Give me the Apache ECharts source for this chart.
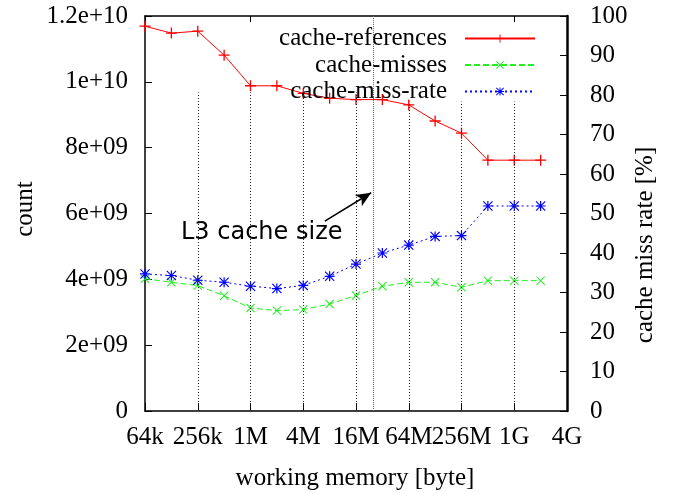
<!DOCTYPE html>
<html><head><meta charset="utf-8">
<script src="https://cdn.jsdelivr.net/npm/echarts@6/dist/echarts.min.js"></script>
<style>html,body{margin:0;padding:0;background:#fff}#c{width:673px;height:494px}</style>
</head><body><div id="c"></div>
<script>
// working memory sizes in bytes (64k .. 2G, factor 2)
const workingMemory = [65536, 131072, 262144, 524288, 1048576, 2097152, 4194304, 8388608,
  16777216, 33554432, 67108864, 134217728, 268435456, 536870912, 1073741824, 2147483648];
const cacheReferences = [1.169e10, 1.148e10, 1.154e10, 1.081e10, 9.88e9, 9.88e9, 9.65e9, 9.50e9,
  9.46e9, 9.46e9, 9.30e9, 8.81e9, 8.44e9, 7.62e9, 7.62e9, 7.62e9];
const cacheMisses = [4.02e9, 3.91e9, 3.81e9, 3.50e9, 3.13e9, 3.05e9, 3.08e9, 3.25e9,
  3.51e9, 3.79e9, 3.91e9, 3.91e9, 3.76e9, 3.96e9, 3.96e9, 3.96e9];
const cacheMissRate = [34.7, 34.3, 33.1, 32.6, 31.6, 31.0, 31.8, 34.1,
  37.2, 40.0, 42.0, 44.2, 44.4, 51.9, 51.9, 51.9];
const xTickLabels = ['64k', '256k', '1M', '4M', '16M', '64M', '256M', '1G', '4G'];
const gridXValues = [262144, 1048576, 4194304, 16777216, 67108864, 268435456, 1073741824];
const l3CacheSize = 26214400; // 25M
const seriesNames = ['cache-references', 'cache-misses', 'cache-miss-rate'];

const SERIF = 'Liberation Serif';
const FS = 25;
const plusPath = 'path://M0,4.4H10V5.6H0Z M4.4,0H5.6V10H4.4Z';
const crossPath = 'path://M0.8,0L5,4.2L9.2,0L10,0.8L5.8,5L10,9.2L9.2,10L5,5.8L0.8,10L0,9.2L4.2,5L0,0.8Z';
const starPath = 'path://M0.8,0L5,4.2L9.2,0L10,0.8L5.8,5L10,9.2L9.2,10L5,5.8L0.8,10L0,9.2L4.2,5L0,0.8Z M0,4.4H10V5.6H0Z M4.4,0H5.6V10H4.4Z';

function gfmt(v) {
  if (v === 0) return '0';
  const e = Math.floor(Math.log10(v) + 1e-9);
  const m = +(v / Math.pow(10, e)).toPrecision(6);
  return m + 'e+' + (e < 10 ? '0' + e : e);
}
function xlab(v) {
  const i = Math.round(Math.log(v) / Math.log(4)) - 8;
  return xTickLabels[i] !== undefined ? xTickLabels[i] : '';
}

const pairs = a => workingMemory.map((x, i) => [x, a[i]]);

const gridLines = gridXValues.map((x, i) => [
  { coord: [x, 0] },
  { coord: [x, i < 4 ? 9.68e9 : 9.4e9] }
]);

const commonX = {
  type: 'log', min: 65536, max: 4294967296,
  axisLabel: { show: false }, splitLine: { show: false }
};

const option = {
  animation: false,
  grid: { left: 145, right: 106, top: 16, bottom: 83, containLabel: false },
  xAxis: [
    Object.assign({}, commonX, {
      position: 'bottom', logBase: 4, splitNumber: 8,
      axisLine: { show: true, lineStyle: { color: '#000', width: 1.5 } },
      axisTick: { show: true, inside: true, length: 8, lineStyle: { color: '#000', width: 1 } },
      axisLabel: { show: true, formatter: xlab, color: '#000', fontFamily: SERIF, fontSize: FS, margin: 14 }
    }),
    Object.assign({}, commonX, {
      position: 'bottom', logBase: 2, splitNumber: 16,
      axisLine: { show: false },
      axisTick: { show: true, inside: true, length: 4, lineStyle: { color: '#000', width: 1 } }
    }),
    Object.assign({}, commonX, {
      position: 'top', logBase: 2, splitNumber: 16,
      axisLine: { show: true, lineStyle: { color: '#000', width: 1.5 } },
      axisTick: { show: true, inside: true, length: 6, lineStyle: { color: '#000', width: 1 } }
    })
  ],
  yAxis: [
    {
      type: 'value', position: 'left', min: 0, max: 1.2e10, interval: 2e9,
      axisLine: { show: true, lineStyle: { color: '#000', width: 1.5 } },
      axisTick: { show: true, inside: true, length: 7, lineStyle: { color: '#000', width: 1 } },
      axisLabel: { formatter: gfmt, color: '#000', fontFamily: SERIF, fontSize: FS, margin: 17 },
      splitLine: { show: false }
    },
    {
      type: 'value', position: 'right', min: 0, max: 100, interval: 10,
      axisLine: { show: true, lineStyle: { color: '#000', width: 2.5 } },
      axisTick: { show: true, inside: true, length: 7, lineStyle: { color: '#000', width: 1 } },
      axisLabel: { color: '#000', fontFamily: SERIF, fontSize: FS, margin: 23 },
      splitLine: { show: false }
    }
  ],
  legend: seriesNames.map((n, i) => ({
    data: [n], right: 137, top: 26 + i * 26.5, orient: 'vertical', align: 'right',
    itemWidth: 70, itemHeight: 10, padding: 0, selectedMode: false,
    textStyle: { color: '#000', fontFamily: SERIF, fontSize: FS, padding: [0, 13, 0, 0] }
  })),
  series: [
    {
      name: seriesNames[0], type: 'line', xAxisIndex: 0, yAxisIndex: 0,
      data: pairs(cacheReferences), symbol: plusPath, symbolSize: 11, showAllSymbol: true,
      color: '#ff0000', lineStyle: { color: '#ff0000', width: 1 }, itemStyle: { color: '#ff0000' },
      z: 3,
      markLine: {
        silent: true, symbol: ['none', 'none'], label: { show: false },
        lineStyle: { color: '#ff3000', type: [1, 1], width: 1, opacity: 1 },
        data: [[{ coord: [l3CacheSize, 0] }, { coord: [l3CacheSize, 1.2e10] }]]
      }
    },
    {
      name: seriesNames[1], type: 'line', xAxisIndex: 0, yAxisIndex: 0,
      data: pairs(cacheMisses), symbol: crossPath, symbolSize: 9, showAllSymbol: true,
      color: '#22ee22', lineStyle: { color: '#22ee22', width: 1, type: [6, 3] }, itemStyle: { color: '#22ee22' },
      z: 3,
      markLine: {
        silent: true, symbol: ['none', 'none'], label: { show: false },
        lineStyle: { color: '#222', type: [1, 2], width: 1, opacity: 1 },
        data: gridLines
      }
    },
    {
      name: seriesNames[2], type: 'line', xAxisIndex: 0, yAxisIndex: 1,
      data: pairs(cacheMissRate), symbol: starPath, symbolSize: 10, showAllSymbol: true,
      color: '#0000ff', lineStyle: { color: '#0000ff', width: 1, type: [2, 3] }, itemStyle: { color: '#0000ff' },
      z: 3,
      markLine: {
        silent: true, symbol: ['none', 'arrow'], symbolSize: [10, 15], label: { show: false },
        lineStyle: { color: '#000', type: 'solid', width: 1.5, opacity: 1 },
        data: [[{ coord: [7.4e6, 5.77e9 / 1.2e8] }, { coord: [2.5e7, 6.63e9 / 1.2e8] }]]
      }
    }
  ],
  graphic: [
    { type: 'text', left: 181, top: 221, style: { text: 'L3 cache size', font: '24px "DejaVu Sans"', fill: '#000' }, z: 10 },
    { type: 'text', x: 25, y: 209, rotation: Math.PI / 2,
      style: { text: 'count', font: FS + 'px "' + SERIF + '"', fill: '#000', textAlign: 'center', textVerticalAlign: 'middle' } },
    { type: 'text', x: 645, y: 245, rotation: Math.PI / 2,
      style: { text: 'cache miss rate [%]', font: FS + 'px "' + SERIF + '"', fill: '#000', textAlign: 'center', textVerticalAlign: 'middle' } },
    { type: 'text', x: 355, y: 478,
      style: { text: 'working memory [byte]', font: FS + 'px "' + SERIF + '"', fill: '#000', textAlign: 'center', textVerticalAlign: 'middle' } }
  ]
};
const chart = echarts.init(document.getElementById('c'), null, { renderer: 'canvas' });
chart.setOption(option);
</script></body></html>
